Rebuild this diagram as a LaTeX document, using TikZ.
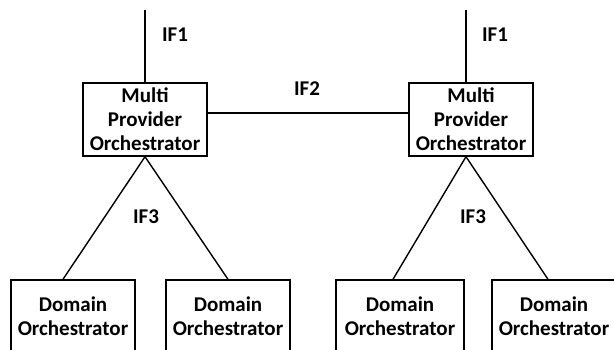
\documentclass[tikz,border=0pt]{standalone}
\usepackage{fontspec}
\setmainfont{Carlito}
\usetikzlibrary{calc}
\begin{document}
\begin{tikzpicture}[x=1pt,y=-1pt,
  box/.style={draw,line width=1.4pt,minimum width=124pt,minimum height=73pt,
    align=center,inner sep=0pt,font=\fontsize{21}{24}\selectfont\bfseries},
  lbl/.style={font=\fontsize{21}{24}\selectfont\bfseries,inner sep=0pt},
  link/.style={line width=1.4pt}]
\useasboundingbox (0,0) rectangle (614,349);
\begin{scope}
\clip (0,0) rectangle (614,349);
% orchestrators
\node[box] (m1) at (145,119.5) {Multi\\Provider\\Orchestrator};
\node[box] (m2) at (471,119.5) {Multi\\Provider\\Orchestrator};
\node[box] (d1) at (73,316.5) {Domain\\Orchestrator};
\node[box] (d2) at (228,316.5) {Domain\\Orchestrator};
\node[box,minimum width=128pt] (d3) at (400,316.5) {Domain\\Orchestrator};
\node[box] (d4) at (554,316.5) {Domain\\Orchestrator};
% upward interfaces
\coordinate (t1) at (145,10);
\coordinate (t2) at (466,10);
\draw[link] (t1) -- (m1.north);
\draw[link] (t2) -- ($(m2.north)+(-5,0)$);
% peer interface
\draw[link] ($(m1.east)+(0,-6.5)$) -- ($(m2.west)+(0,-6.5)$);
% downward interfaces
\coordinate (a1) at (m1.south);
\coordinate (a2) at ($(m2.south)+(-5,0)$);
\draw[link] ($(d1.north)+(-10,0)$) -- (a1) -- (d2.north);
\draw[link] ($(d3.north)+(-7,0)$) -- (a2) -- ($(d4.north)+(-6,0)$);
% labels
\node[lbl] (if1a) at (175,35) {IF1};
\node[lbl] (if1b) at (495,35) {IF1};
\node[lbl] (if2) at (307,89) {IF2};
\node[lbl] (if3a) at (146,217) {IF3};
\node[lbl] (if3b) at (473,217) {IF3};
\end{scope}
\end{tikzpicture}
\end{document}
